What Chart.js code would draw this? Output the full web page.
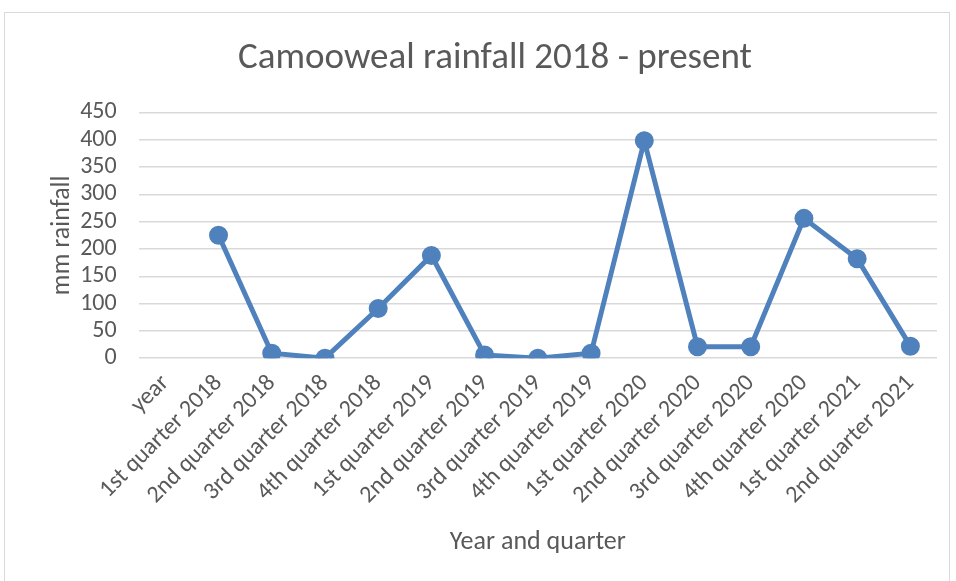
<!DOCTYPE html>
<html>
<head>
<meta charset="utf-8">
<script src="https://cdn.jsdelivr.net/npm/chart.js@4.4.0/dist/chart.umd.min.js"></script>
<style>
	body { margin: 0; background: #fff; }
	#wrap { position: absolute; left: 4px; top: 12px; width: 946px; height: 575px; border: 1px solid #d9d9d9; box-sizing: border-box; }
</style>
</head>
<body>
<div id="wrap"><canvas id="mycanvas"></canvas></div>
<script>
var quarters = ['year', '1st quarter 2018', '2nd quarter 2018', '3rd quarter 2018', '4th quarter 2018',
	'1st quarter 2019', '2nd quarter 2019', '3rd quarter 2019', '4th quarter 2019',
	'1st quarter 2020', '2nd quarter 2020', '3rd quarter 2020', '4th quarter 2020',
	'1st quarter 2021', '2nd quarter 2021'];
var rainfall = [null, 225, 9, 0, 91, 188, 6, 0, 9, 398, 21, 21, 256, 182, 22];
var yTicks = [0, 50, 100, 150, 200, 250, 300, 350, 400, 450];

var font = "Carlito, Calibri, 'Open Sans', sans-serif";
var grey = '#595959';

var ctx = document.getElementById('mycanvas');
var chart = new Chart(ctx, {
	type: 'line',
	data: {
		labels: quarters,
		datasets: [{
			label: 'mm rainfall',
			data: rainfall,
			borderColor: '#4f81bd',
			backgroundColor: '#4f81bd',
			borderWidth: 5,
			pointRadius: 7,
			pointHoverRadius: 7,
			tension: 0,
			spanGaps: false
		}]
	},
	options: {
		responsive: true,
		maintainAspectRatio: false,
		animation: false,
		layout: { padding: { left: 42, right: 6, top: 8, bottom: 24 } },
		plugins: {
			legend: { display: false },
			tooltip: { enabled: false },
			title: {
				display: true,
				text: 'Camooweal rainfall 2018 - present',
				color: grey,
				font: { family: font, size: 37, weight: 'normal' },
				padding: { top: 16, bottom: 31 }
			}
		},
		scales: {
			x: {
				offset: true,
				grid: { display: false, drawTicks: false },
				border: { display: false },
				ticks: {
					color: grey,
					font: { family: font, size: 24 },
					maxRotation: 45,
					minRotation: 45,
					autoSkip: false,
					padding: 11
				},
				title: {
					display: true,
					text: 'Year and quarter',
					color: grey,
					font: { family: font, size: 26 },
					padding: { top: 6 }
				}
			},
			y: {
				min: 0,
				max: 450,
				afterBuildTicks: function(axis) {
					axis.ticks = yTicks.map(function(v) { return { value: v }; });
				},
				grid: { color: '#d9d9d9', lineWidth: 1.5, drawTicks: false },
				border: { display: false },
				ticks: {
					color: grey,
					font: { family: font, size: 24 },
					autoSkip: false,
					padding: 22
				},
				title: {
					display: true,
					text: 'mm rainfall',
					color: grey,
					font: { family: font, size: 26 },
					padding: { top: 0, bottom: -20 }
				}
			}
		}
	}
});
</script>
</body>
</html>
